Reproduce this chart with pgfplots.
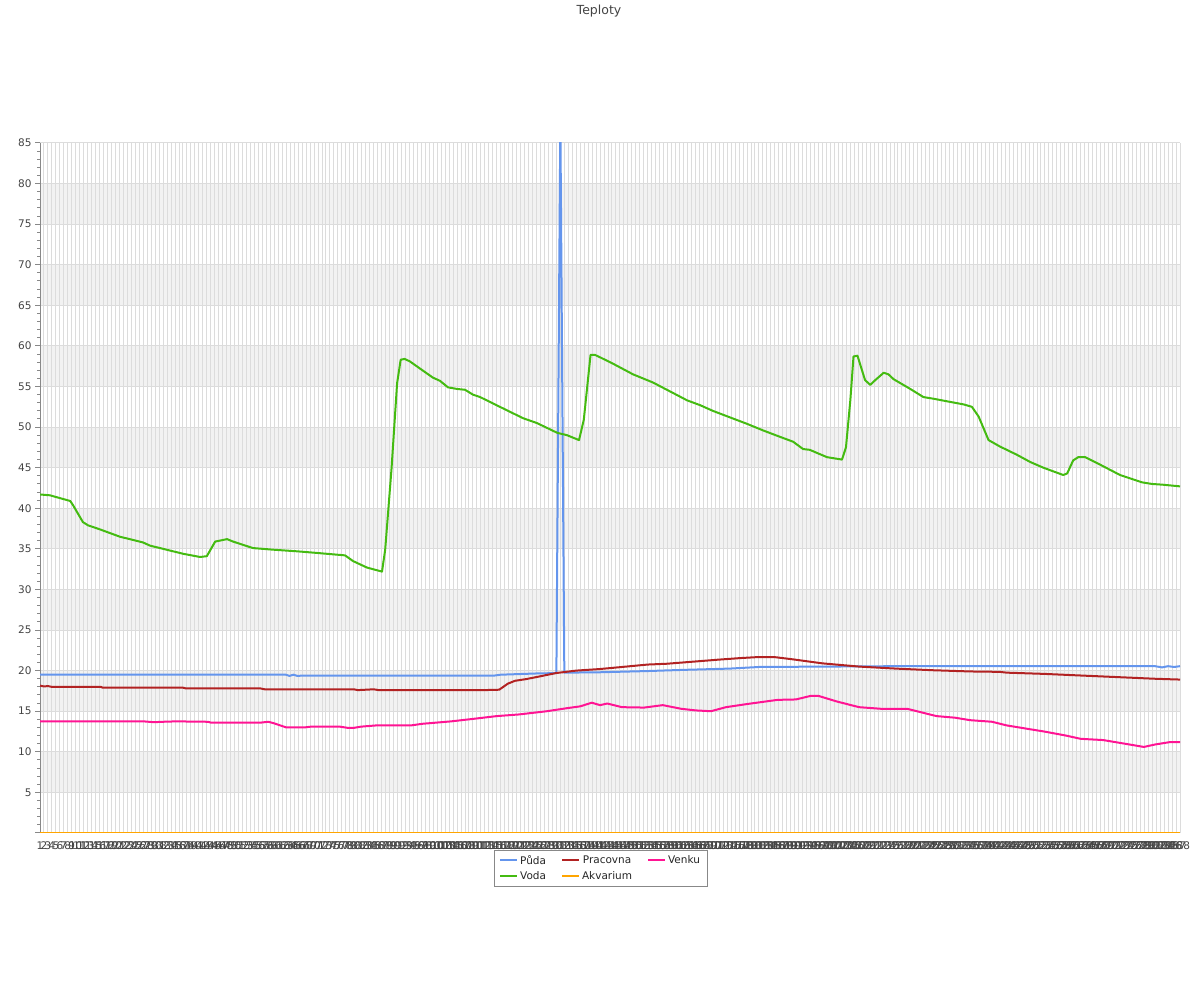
\documentclass[border=0pt]{standalone}
\usepackage{fontspec}
\setmainfont{DejaVu Sans}
\usepackage{pgfplots}
\pgfplotsset{compat=1.18}

\definecolor{puda}{HTML}{6495ED}
\definecolor{voda}{HTML}{44BB11}
\definecolor{pracovna}{HTML}{B22222}
\definecolor{akvarium}{HTML}{FFA500}
\definecolor{venku}{HTML}{FF1493}
\definecolor{band}{HTML}{F2F2F2}
\definecolor{gridc}{HTML}{DCDCDC}
\definecolor{axisc}{HTML}{888888}
\definecolor{txt}{HTML}{444444}

\begin{document}
\begin{tikzpicture}[x=1pt,y=1pt]
\path (0,0) rectangle (1200,1000);
\node[font=\fontsize{12.5}{15}\selectfont, text=txt] at (599,989) {Teploty};
\begin{axis}[
    set layers,
    at={(40pt,167pt)}, anchor=south west,
    scale only axis, width=1140pt, height=690pt,
    xmin=1, xmax=288, ymin=0, ymax=85,
    axis x line*=bottom, axis y line*=left,
    axis line style={draw=axisc, line width=1pt},
    xtick={1,...,288},
    xtick style={draw=none},
    ytick={0,5,...,85},
    yticklabels={{},5,10,15,20,25,30,35,40,45,50,55,60,65,70,75,80,85},
    minor ytick={0,...,85},
    tick align=outside,
    major tick length=5pt, minor tick length=3pt,
    y tick style={draw=axisc, line width=1pt},
    ticklabel style={font=\fontsize{10.5}{12}\selectfont, text=txt},
    /pgf/number format/assume math mode=true,
    xmajorgrids, ymajorgrids,
    major grid style={draw=gridc, line width=1pt},
    every axis plot/.append style={line width=2pt, line join=round},
    legend columns=3,
    legend style={at={(0.4917,-0.0246)}, anchor=north, draw=axisc,
        font=\fontsize{10.5}{12}\selectfont, text=black!85,
        inner xsep=5pt, inner ysep=3pt, row sep=2pt,
        /tikz/every even column/.append style={column sep=13pt}},
    legend image code/.code={\draw[#1, line width=2pt] (0pt,0pt) -- (12pt,0pt);
        \path (0pt,0pt) -- (17pt,0pt);},
]
\begin{pgfonlayer}{axis background}
\fill[band] (axis cs:1,5) rectangle (axis cs:288,10);
\fill[band] (axis cs:1,15) rectangle (axis cs:288,20);
\fill[band] (axis cs:1,25) rectangle (axis cs:288,30);
\fill[band] (axis cs:1,35) rectangle (axis cs:288,40);
\fill[band] (axis cs:1,45) rectangle (axis cs:288,50);
\fill[band] (axis cs:1,55) rectangle (axis cs:288,60);
\fill[band] (axis cs:1,65) rectangle (axis cs:288,70);
\fill[band] (axis cs:1,75) rectangle (axis cs:288,80);
\end{pgfonlayer}

% Puda
\addplot[puda] coordinates {
(1,19.5) (62.9,19.5) (63.8,19.35) (64.8,19.5) (65.8,19.35) (67.5,19.4)
(115.5,19.4) (117,19.5) (125.9,19.65) (131,19.7) (132,88) (133,19.75)
(142,19.8) (154,19.95) (163.4,20.1) (174.6,20.25) (182,20.45) (216.5,20.55)
(281.7,20.55) (283.5,20.4) (285,20.55) (286.5,20.45) (288,20.55)
};
% Pracovna
\addplot[pracovna] coordinates {
(1,18.15) (2,18.05) (3,18.1) (4,18.0) (16.3,18.0) (16.8,17.9) (37,17.9)
(37.8,17.8) (56.6,17.8) (57.6,17.7) (80,17.7) (81,17.6) (85,17.7) (86.3,17.6)
(112.5,17.6) (116.6,17.65) (118.8,18.4) (120.6,18.75) (123.3,18.95)
(126.9,19.3) (130.9,19.7) (135.9,20.0) (142,20.2) (147.5,20.45) (154,20.75)
(158.8,20.85) (165.3,21.1) (171.7,21.35) (177.4,21.55) (181,21.65)
(186.2,21.65) (190.4,21.4) (197.9,20.9) (207.2,20.5) (216.5,20.25)
(225.8,20.05) (235.1,19.9) (242.6,19.85) (244.4,19.75) (253.8,19.6)
(263,19.4) (272.4,19.2) (281.7,19.0) (288,18.9)
};
% Venku
\addplot[venku] coordinates {
(1,13.75) (27.1,13.75) (29.7,13.65) (32,13.7) (35.2,13.75) (43.3,13.7)
(44,13.6) (56.6,13.6) (58.5,13.7) (60,13.5) (63,13.0) (67.5,13.0) (69.2,13.1)
(76.5,13.1) (78.5,12.95) (80,12.95) (81.8,13.1) (85.6,13.25) (94.4,13.25)
(97.2,13.45) (104.5,13.75) (110.8,14.1) (116,14.4) (121.5,14.6) (128.6,15.0)
(134,15.4) (137,15.6) (139.9,16.05) (142,15.75) (143.8,15.95) (147.5,15.5)
(153.1,15.45) (157.8,15.75) (162.4,15.3) (166.1,15.1) (169.9,15.0)
(173.7,15.5) (179.2,15.9) (186.7,16.4) (191.3,16.45) (195.1,16.9)
(196.9,16.9) (201.6,16.2) (207.2,15.5) (212.7,15.3) (219.3,15.3)
(226.7,14.4) (231.4,14.2) (235.1,13.9) (240.7,13.7) (244.4,13.25) (250,12.8)
(253.8,12.5) (259.3,12.0) (263,11.6) (268.6,11.45) (274.1,11.0)
(278.9,10.6) (281.7,10.9) (285.5,11.2) (288,11.2)
};
% Voda
\addplot[voda] coordinates {
(1,41.7) (3.5,41.6) (8.6,40.9) (9.3,40.4) (11.8,38.3) (13.1,37.9) (16.1,37.4)
(21.1,36.5) (26.9,35.8) (28.7,35.4) (37.0,34.4) (41.3,34.0) (43.0,34.1)
(45.1,35.9) (48.1,36.2) (49.6,35.9) (54.6,35.1) (59.7,34.9) (65.7,34.7)
(70.7,34.5) (77.8,34.2) (79.8,33.5) (83.3,32.7) (87.1,32.2) (87.9,34.9)
(89.5,44.9) (90.9,55.4) (91.8,58.3) (92.8,58.4) (94.1,58.1) (96.7,57.2)
(99.9,56.1) (101.7,55.7) (103.7,54.9) (106.0,54.7) (108.0,54.6) (110.0,54.0)
(111.8,53.7) (117.6,52.3) (122.6,51.1) (126.1,50.5) (131.2,49.3) (133.7,49.0)
(136.7,48.4) (137.9,50.9) (139.6,58.9) (140.7,58.9) (142.0,58.6)
(145.3,57.8) (150.3,56.5) (155.3,55.5) (159.6,54.4) (163.9,53.3)
(167.2,52.7) (170.4,52.0) (174.7,51.2) (179.0,50.4) (183.0,49.6)
(187.3,48.8) (190.6,48.2) (193.1,47.3) (194.8,47.2) (199.1,46.3)
(202.9,46.0) (203.9,47.5) (205.0,53.3) (205.8,58.7) (206.8,58.8)
(208.7,55.8) (210.0,55.2) (211.3,55.8) (213.4,56.7) (214.6,56.5)
(215.9,55.9) (220.1,54.7) (223.4,53.7) (225.9,53.5) (230.2,53.1)
(233.5,52.8) (235.6,52.5) (237.3,51.3) (239.8,48.4) (242.7,47.6)
(246.9,46.6) (250.3,45.7) (253.6,45.0) (258.6,44.1) (259.6,44.3)
(261.1,45.9) (262.4,46.3) (264.1,46.3) (267.0,45.6) (272.9,44.1)
(278.4,43.2) (280.9,43.0) (283.8,42.9) (288,42.7)
};
% Akvarium
\addplot[akvarium] coordinates {(1,0) (288,0)};

\legend{Půda,Pracovna,Venku,Voda,Akvarium}
\end{axis}
\end{tikzpicture}
\end{document}
